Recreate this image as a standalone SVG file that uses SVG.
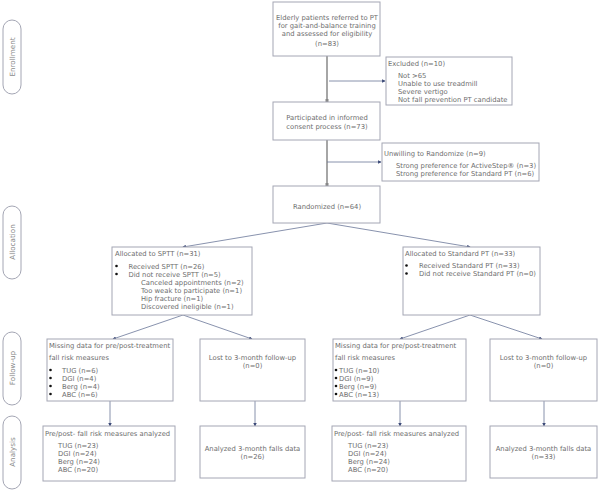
<svg xmlns="http://www.w3.org/2000/svg" width="600" height="492" viewBox="0 0 600 492">
<style>
.box{fill:#fff;stroke:#a4a6b4;stroke-width:1}
.pill{fill:#fff;stroke:#a4a6b4;stroke-width:1}
text{font-family:"DejaVu Sans",Verdana,sans-serif;font-size:6.8px;fill:#6e6e6e}
.c{text-anchor:middle}
.side{font-size:7.2px;fill:#8a8a8a;text-anchor:middle}
.main{stroke:#a6a6a6;stroke-width:2;fill:none}
.thin{stroke:#6a7698;stroke-width:0.8;fill:none}
</style>
<defs>
<marker id="ah" viewBox="0 0 6 6" refX="5" refY="3" markerWidth="3.5" markerHeight="3.5" orient="auto" markerUnits="userSpaceOnUse"><path d="M0,0L6,3L0,6z" fill="#3c4a78"/></marker>
</defs>
<rect width="600" height="492" fill="#fff"/>
<g id="phases">
<g id="enrollment"><rect class="pill" x="3" y="20" width="18" height="74" rx="9"/><text class="side" transform="translate(14.5,57) rotate(-90)">Enrollment</text></g>
<g id="allocation"><rect class="pill" x="3" y="206" width="18" height="73" rx="9"/><text class="side" transform="translate(14.5,242) rotate(-90)">Allocation</text></g>
<g id="followup"><rect class="pill" x="3" y="332" width="18" height="73" rx="9"/><text class="side" transform="translate(14.5,368) rotate(-90)">Follow-up</text></g>
<g id="analysis"><rect class="pill" x="3" y="416" width="18" height="73" rx="9"/><text class="side" transform="translate(14.5,452) rotate(-90)">Analysis</text></g>
</g>
<g id="connectors">
<line class="main" x1="327" y1="56" x2="327" y2="102"/>
<line class="thin" x1="329" y1="81" x2="385" y2="81" marker-end="url(#ah)"/>
<line class="main" x1="327" y1="140" x2="327" y2="186"/>
<line class="thin" x1="327" y1="162" x2="381" y2="162" marker-end="url(#ah)"/>
<line class="thin" x1="327" y1="223" x2="183" y2="247" marker-end="url(#ah)"/>
<line class="thin" x1="327" y1="223" x2="470" y2="247" marker-end="url(#ah)"/>
<line class="thin" x1="183" y1="315" x2="113" y2="339" marker-end="url(#ah)"/>
<line class="thin" x1="183" y1="315" x2="252" y2="339" marker-end="url(#ah)"/>
<line class="thin" x1="470" y1="315" x2="400" y2="339" marker-end="url(#ah)"/>
<line class="thin" x1="470" y1="315" x2="542" y2="339" marker-end="url(#ah)"/>
<line class="thin" x1="110" y1="401" x2="110" y2="426" marker-end="url(#ah)"/>
<line class="thin" x1="255" y1="401" x2="255" y2="426" marker-end="url(#ah)"/>
<line class="thin" x1="400" y1="401" x2="400" y2="426" marker-end="url(#ah)"/>
<line class="thin" x1="544" y1="401" x2="544" y2="426" marker-end="url(#ah)"/>
<rect x="325.5" y="99" width="3" height="3" fill="#888"/>
<rect x="325.5" y="183" width="3" height="3" fill="#888"/>
</g>
<g id="referred"><rect class="box" x="273" y="2" width="107" height="54"/>
<text class="c" x="327" y="19.5">Elderly patients referred to PT</text>
<text class="c" x="327" y="27.5">for gait-and-balance training</text>
<text class="c" x="327" y="35.5">and assessed for eligibility</text>
<text class="c" x="327" y="45.5">(n=83)</text></g>
<g id="excluded"><rect class="box" x="386" y="57" width="126" height="48"/>
<text x="388" y="65.5">Excluded (n=10)</text>
<text x="398" y="77.5">Not &gt;65</text>
<text x="398" y="85.5">Unable to use treadmill</text>
<text x="398" y="93.5">Severe vertigo</text>
<text x="398" y="101.5">Not fall prevention PT candidate</text></g>
<g id="consent"><rect class="box" x="273" y="102" width="107" height="38"/>
<text class="c" x="327" y="120">Participated in informed</text>
<text class="c" x="327" y="129">consent process (n=73)</text></g>
<g id="unwilling"><rect class="box" x="382" y="143" width="157" height="38"/>
<text x="384" y="155.5">Unwilling to Randomize (n=9)</text>
<text x="396" y="167.5">Strong preference for ActiveStep® (n=3)</text>
<text x="396" y="175.5">Strong preference for Standard PT (n=6)</text></g>
<g id="randomized"><rect class="box" x="273" y="186" width="107" height="37"/>
<text class="c" x="327" y="208.5">Randomized (n=64)</text></g>
<g id="alloc-sptt"><rect class="box" x="112" y="247" width="140" height="68"/>
<text x="115" y="255.5">Allocated to SPTT (n=31)</text>
<circle cx="116.5" cy="266" r="1.3" fill="#111"/><circle cx="116.5" cy="274" r="1.3" fill="#111"/>
<text x="128.5" y="268.5">Received SPTT (n=26)</text>
<text x="128.5" y="276.5">Did not receive SPTT (n=5)</text>
<text x="141" y="284.5">Canceled appointments (n=2)</text>
<text x="141" y="292.5">Too weak to participate (n=1)</text>
<text x="141" y="300.5">Hip fracture (n=1)</text>
<text x="141" y="308.5">Discovered ineligible (n=1)</text></g>
<g id="alloc-std"><rect class="box" x="403" y="247" width="137" height="68"/>
<text x="405" y="255.5">Allocated to Standard PT (n=33)</text>
<circle cx="406.5" cy="265.5" r="1.3" fill="#111"/><circle cx="406.5" cy="273.5" r="1.3" fill="#111"/>
<text x="419" y="268">Received Standard PT (n=33)</text>
<text x="419" y="276">Did not receive Standard PT (n=0)</text></g>
<g id="missing-sptt"><rect class="box" x="47" y="339" width="126" height="62"/>
<text x="49" y="347.5">Missing data for pre/post-treatment</text>
<text x="49" y="359.5">fall risk measures</text>
<circle cx="50.5" cy="370" r="1.3" fill="#111"/><circle cx="50.5" cy="378" r="1.3" fill="#111"/><circle cx="50.5" cy="386" r="1.3" fill="#111"/><circle cx="50.5" cy="394" r="1.3" fill="#111"/>
<text x="62" y="372.5">TUG (n=6)</text>
<text x="62" y="380.5">DGI (n=4)</text>
<text x="62" y="388.5">Berg (n=4)</text>
<text x="62" y="396.5">ABC (n=6)</text></g>
<g id="lost-sptt"><rect class="box" x="200" y="339" width="105" height="62"/>
<text class="c" x="252.5" y="359.5">Lost to 3-month follow-up</text>
<text class="c" x="252.5" y="367.5">(n=0)</text></g>
<g id="missing-std"><rect class="box" x="333" y="339" width="133" height="62"/>
<text x="335" y="347.5">Missing data for pre/post-treatment</text>
<text x="335" y="359.5">fall risk measures</text>
<circle cx="336" cy="370" r="1.3" fill="#111"/><circle cx="336" cy="378" r="1.3" fill="#111"/><circle cx="336" cy="386" r="1.3" fill="#111"/><circle cx="336" cy="394" r="1.3" fill="#111"/>
<text x="339" y="372.5">TUG (n=10)</text>
<text x="339" y="380.5">DGI (n=9)</text>
<text x="339" y="388.5">Berg (n=9)</text>
<text x="339" y="396.5">ABC (n=13)</text></g>
<g id="lost-std"><rect class="box" x="490" y="339" width="107" height="62"/>
<text class="c" x="543.5" y="359.5">Lost to 3-month follow-up</text>
<text class="c" x="543.5" y="367.5">(n=0)</text></g>
<g id="analysis-sptt"><rect class="box" x="43" y="426" width="132" height="55"/>
<text x="45" y="435.5">Pre/post- fall risk measures analyzed</text>
<text x="58" y="447.5">TUG (n=23)</text>
<text x="58" y="455.5">DGI (n=24)</text>
<text x="58" y="463.5">Berg (n=24)</text>
<text x="58" y="471.5">ABC (n=20)</text></g>
<g id="falls-sptt"><rect class="box" x="200" y="426" width="105" height="52"/>
<text class="c" x="252.5" y="450.5">Analyzed 3-month falls data</text>
<text class="c" x="252.5" y="458.5">(n=26)</text></g>
<g id="analysis-std"><rect class="box" x="332" y="426" width="134" height="55"/>
<text x="334" y="435.5">Pre/post- fall risk measures analyzed</text>
<text x="348" y="447.5">TUG (n=23)</text>
<text x="348" y="455.5">DGI (n=24)</text>
<text x="348" y="463.5">Berg (n=24)</text>
<text x="348" y="471.5">ABC (n=20)</text></g>
<g id="falls-std"><rect class="box" x="490" y="426" width="107" height="52"/>
<text class="c" x="543.5" y="450.5">Analyzed 3-month falls data</text>
<text class="c" x="543.5" y="458.5">(n=33)</text></g>
</svg>
